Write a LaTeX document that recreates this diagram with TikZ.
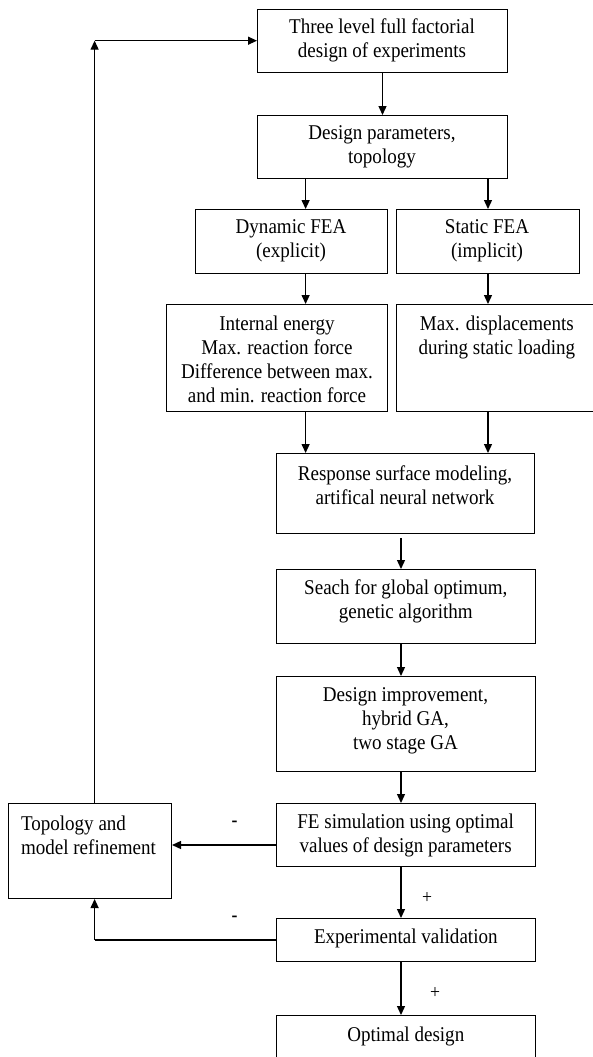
\documentclass[tikz,border=0pt]{standalone}
\usepackage{fontspec}
\setmainfont{Liberation Serif}[FakeStretch=0.907]
\usetikzlibrary{arrows.meta}
\begin{document}
\begin{tikzpicture}[x=1pt,y=-1pt,
  box/.style={draw,line width=1pt,inner sep=0pt,anchor=north west},
  txt/.style={inner sep=0pt,align=center,font=\fontsize{21}{24}\selectfont},
  sign/.style={inner sep=0pt,font=\fontsize{19.5}{22}\selectfont},
  arr/.style={line width=1.3pt,-{Triangle[length=9pt,width=8pt]}},
  ln/.style={line width=1.3pt}]
\useasboundingbox (0,0) rectangle (593,1057);
\clip (0,0) rectangle (593,1057);
% boxes
\node[box,minimum width=250pt,minimum height=63pt] (b1) at (257,9) {};
\node[box,minimum width=250pt,minimum height=63pt] (b2) at (257,115) {};
\node[box,minimum width=192pt,minimum height=64pt] (b3) at (195,209) {};
\node[box,minimum width=183pt,minimum height=64pt] (b4) at (396,209) {};
\node[box,minimum width=221pt,minimum height=107pt] (b5) at (166,304) {};
\node[box,minimum width=202pt,minimum height=107pt] (b6) at (396,304) {};
\node[box,minimum width=258pt,minimum height=80pt] (b7) at (276,453) {};
\node[box,minimum width=259pt,minimum height=74pt] (b8) at (276,569) {};
\node[box,minimum width=259pt,minimum height=95pt] (b9) at (276,676) {};
\node[box,minimum width=259pt,minimum height=63pt] (b10) at (276,803) {};
\node[box,minimum width=163pt,minimum height=95pt] (b11) at (8,803) {};
\node[box,minimum width=259pt,minimum height=43pt] (b12) at (276,918) {};
\node[box,minimum width=259pt,minimum height=62pt] (b13) at (276,1015) {};
% texts
\node[txt] (t1) at (382,40.3) {Three level full factorial\\design of experiments};
\node[txt] (t2) at (382,147) {Design parameters,\\topology};
\node[txt] (t3) at (291,240.8) {Dynamic FEA\\(explicit)};
\node[txt] (t4) at (487,240.8) {Static FEA\\(implicit)};
\node[txt] (t5) at (277,359) {Internal energy\\Max. reaction force\\Difference between max.\\and min. reaction force};
\node[txt] (t6) at (496.8,337) {Max. displacements\\during static loading};
\node[txt] (t7) at (405,485.3) {Response surface modeling,\\artifical neural network};
\node[txt] (t8) at (405.8,601.7) {Seach for global optimum,\\genetic algorithm};
\node[txt] (t9) at (405.5,720.7) {Design improvement,\\hybrid GA,\\two stage GA};
\node[txt] (t10) at (405.6,835) {FE simulation using optimal\\values of design parameters};
\node[txt,align=left,anchor=west] (t11) at (20.8,835) {Topology and\\model refinement};
\node[txt] (t12) at (405.8,938.3) {Experimental validation};
\node[txt] (t13) at (405.8,1036) {Optimal design};
% signs
\node[sign] (m1) at (234.5,824) {\textbf{-}};
\node[sign] (m2) at (234.5,918.3) {\textbf{-}};
\node[sign] (p1) at (427,897.7) {+};
\node[sign] (p2) at (435,992.7) {+};
% helper coordinates
\coordinate (xa) at (305.6,0);
\coordinate (xc) at (401,0);
\coordinate (xl) at (94.6,0);
\coordinate (y1) at (0,845);
\coordinate (y2) at (0,940);
\coordinate (ctop) at (94.6,40.7);
\coordinate (cbot) at (94.6,940);
% connectors
\draw[arr] (b1.south) -- (b2.north);
\draw[arr] (b2.south -| xa) -- (b3.north -| xa);
\draw[arr] (b2.south -| b4.north) -- (b4.north);
\draw[arr] (b3.south -| xa) -- (b5.north -| xa);
\draw[arr] (b4.south) -- (b6.north -| b4.south);
\draw[arr] (b5.south -| xa) -- (b7.north -| xa);
\draw[arr] (b6.south -| b4.south) -- (b7.north -| b4.south);
\draw[arr,shorten <=4pt] (b7.south -| xc) -- (b8.north -| xc);
\draw[arr] (b8.south -| xc) -- (b9.north -| xc);
\draw[arr] (b9.south -| xc) -- (b10.north -| xc);
\draw[arr] (b10.south -| xc) -- (b12.north -| xc);
\draw[arr] (b12.south -| xc) -- (b13.north -| xc);
\draw[arr] (b10.west |- y1) -- (b11.east |- y1);
\draw[ln] (b12.west |- y2) -- (cbot);
\draw[arr] (cbot) -- (b11.south -| xl);
\draw[arr] (b11.north -| xl) -- (ctop);
\draw[arr] (ctop) -- (b1.west |- ctop);
\end{tikzpicture}
\end{document}
